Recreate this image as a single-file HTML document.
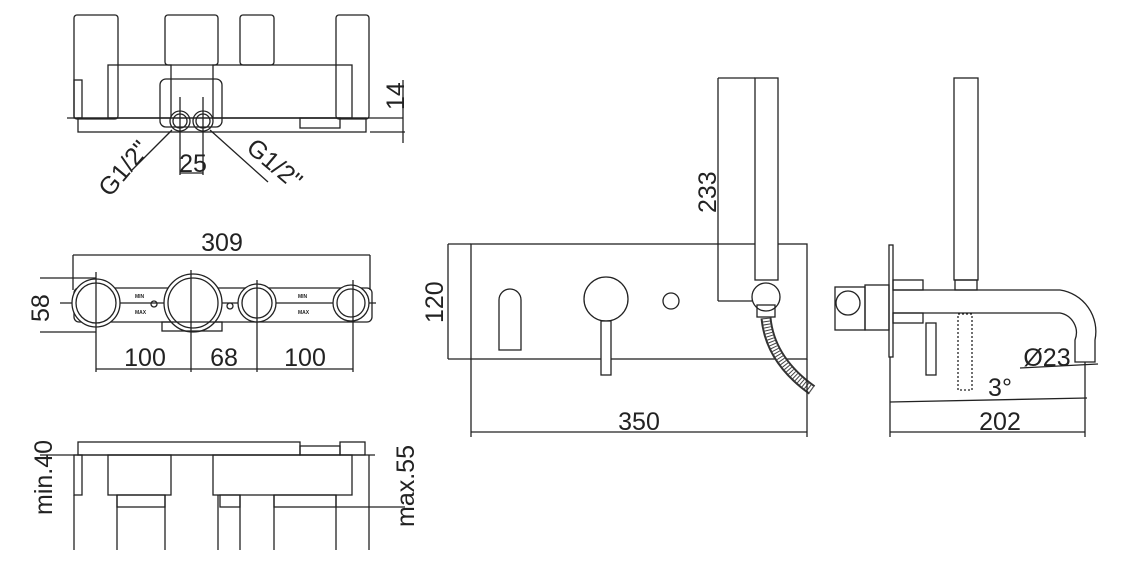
<!DOCTYPE html>
<html><head><meta charset="utf-8"><style>
html,body{margin:0;padding:0;background:#fff;}
svg{display:block;}
text{font-family:"Liberation Sans",sans-serif;fill:#222;}
</style></head><body>
<svg width="1122" height="577" viewBox="0 0 1122 577" xmlns="http://www.w3.org/2000/svg">
<g fill="none" stroke="#222" stroke-width="1.3">
<!-- TOP VIEW -->
<rect x="74" y="15" width="44" height="104" rx="3"/>
<rect x="165" y="15" width="53" height="50" rx="3"/>
<rect x="240" y="15" width="34" height="50" rx="3"/>
<rect x="336" y="15" width="33" height="104" rx="3"/>
<line x1="67" y1="118" x2="403" y2="118"/>
<rect x="78" y="118" width="288" height="14"/>
<rect x="300" y="118" width="40" height="10"/>
<rect x="108" y="65" width="63" height="53"/>
<rect x="213" y="65" width="139" height="53"/>
<rect x="160" y="79" width="62" height="48" rx="6"/>
<rect x="74" y="80" width="8" height="38"/>
<circle cx="180" cy="121" r="10"/><circle cx="180" cy="121" r="7"/>
<circle cx="203" cy="121" r="10"/><circle cx="203" cy="121" r="7"/>
<line x1="180" y1="97" x2="180" y2="175"/><line x1="203" y1="97" x2="203" y2="175"/>
<line x1="180" y1="173" x2="203" y2="173"/>
<line x1="172" y1="130" x2="132" y2="170"/><line x1="210" y1="130" x2="268" y2="182"/>
<line x1="370" y1="132" x2="405" y2="132"/>
<line x1="403" y1="80" x2="403" y2="143"/>
<!-- MIDDLE VIEW -->
<line x1="73" y1="255" x2="370" y2="255"/>
<line x1="73" y1="255" x2="73" y2="290"/><line x1="370" y1="255" x2="370" y2="290"/>
<rect x="74" y="288" width="298" height="34" rx="5"/>
<line x1="60" y1="303" x2="376" y2="303"/>
<line x1="40" y1="278" x2="96" y2="278"/><line x1="40" y1="332" x2="96" y2="332"/>
<circle cx="96" cy="303" r="24" fill="#fff"/><circle cx="96" cy="303" r="20"/>
<circle cx="193" cy="303" r="29" fill="#fff"/><circle cx="193" cy="303" r="25"/>
<circle cx="257" cy="303" r="19" fill="#fff"/><circle cx="257" cy="303" r="15"/>
<circle cx="351" cy="303" r="18" fill="#fff"/><circle cx="351" cy="303" r="14"/>
<circle cx="154" cy="304" r="3"/><circle cx="230" cy="306" r="3"/>
<rect x="162" y="322" width="60" height="9"/>
<line x1="96" y1="272" x2="96" y2="372"/><line x1="191" y1="270" x2="191" y2="372"/>
<line x1="257" y1="280" x2="257" y2="372"/><line x1="353" y1="280" x2="353" y2="372"/>
<line x1="96" y1="369" x2="353" y2="369"/>
<!-- BOTTOM VIEW -->
<rect x="78" y="442" width="222" height="13"/>
<rect x="300" y="446" width="40" height="9"/><rect x="340" y="442" width="25" height="13"/>
<line x1="40" y1="455" x2="375" y2="455"/>
<rect x="74" y="455" width="8" height="40"/>
<rect x="108" y="455" width="63" height="40"/>
<rect x="213" y="455" width="139" height="40"/>
<rect x="117" y="495" width="48" height="12"/><rect x="274" y="495" width="62" height="12"/>
<rect x="220" y="495" width="20" height="12"/>
<line x1="336" y1="507" x2="405" y2="507"/>
<line x1="74" y1="495" x2="74" y2="550"/><line x1="117" y1="495" x2="117" y2="550"/>
<line x1="165" y1="495" x2="165" y2="550"/><line x1="218" y1="495" x2="218" y2="550"/>
<line x1="240" y1="495" x2="240" y2="550"/><line x1="274" y1="495" x2="274" y2="550"/>
<line x1="336" y1="495" x2="336" y2="550"/><line x1="369" y1="455" x2="369" y2="550"/>
<!-- FRONT VIEW -->
<rect x="471" y="244" width="336" height="115"/>
<line x1="448" y1="244" x2="471" y2="244"/><line x1="448" y1="359" x2="471" y2="359"/>
<line x1="448" y1="244" x2="448" y2="359"/>
<path d="M499 350 V300 A11 11 0 0 1 521 300 V350 Z"/>
<circle cx="606" cy="299" r="22"/>
<rect x="601" y="321" width="10" height="54" fill="#fff"/>
<circle cx="671" cy="301" r="8"/>
<rect x="755" y="78" width="23" height="202" fill="#fff"/>
<circle cx="766" cy="297" r="14" fill="#fff"/>
<rect x="757" y="305" width="18" height="12"/>
<path d="M766 318 Q770 360 812 390" stroke-width="11" stroke="#333"/>
<path d="M766 318 Q770 360 812 390" stroke-width="7" stroke="#fff"/>
<path d="M766 318 Q770 360 812 390" stroke-width="7" stroke="#444" stroke-dasharray="1 2"/>
<line x1="718" y1="78" x2="755" y2="78"/><line x1="718" y1="78" x2="718" y2="301"/>
<line x1="718" y1="301" x2="752" y2="301"/>
<line x1="471" y1="359" x2="471" y2="437"/><line x1="807" y1="359" x2="807" y2="437"/>
<line x1="471" y1="432" x2="807" y2="432"/>
<!-- SIDE VIEW -->
<rect x="954" y="78" width="24" height="202"/>
<rect x="955" y="280" width="22" height="10"/>
<rect x="889" y="245" width="4" height="112"/>
<path d="M893 290 H1060 A42 42 0 0 1 1095 340 V362 H1075 V340 A20 20 0 0 0 1060 313 H893"/>
<rect x="835" y="287" width="30" height="43"/>
<circle cx="848" cy="303" r="12"/>
<rect x="865" y="285" width="24" height="45"/>
<rect x="893" y="280" width="30" height="10"/><rect x="893" y="313" width="30" height="10"/>
<rect x="926" y="323" width="10" height="52"/>
<rect x="958" y="314" width="14" height="76" stroke-dasharray="2 2"/>
<line x1="890" y1="357" x2="890" y2="437"/><line x1="1085" y1="362" x2="1085" y2="437"/>
<line x1="890" y1="432" x2="1085" y2="432"/>
<line x1="890" y1="402" x2="1087" y2="398"/>
<line x1="1020" y1="368" x2="1098" y2="364"/>
</g>
<g font-size="25">
<text x="0" y="0" transform="translate(404 110) rotate(-90)">14</text>
<text x="193" y="172" text-anchor="middle">25</text>
<text x="0" y="0" transform="translate(110 198) rotate(-50)">G1/2"</text>
<text x="0" y="0" transform="translate(245 150) rotate(40)">G1/2"</text>
<text x="222" y="251" text-anchor="middle">309</text>
<text x="0" y="0" transform="translate(49 322) rotate(-90)">58</text>
<text x="145" y="366" text-anchor="middle">100</text>
<text x="224" y="366" text-anchor="middle">68</text>
<text x="305" y="366" text-anchor="middle">100</text>
<text x="0" y="0" transform="translate(52 515) rotate(-90)">min.40</text>
<text x="0" y="0" transform="translate(414 527) rotate(-90)">max.55</text>
<text x="0" y="0" transform="translate(443 323) rotate(-90)">120</text>
<text x="0" y="0" transform="translate(716 213) rotate(-90)">233</text>
<text x="639" y="430" text-anchor="middle">350</text>
<text x="1047" y="366" text-anchor="middle">Ø23</text>
<text x="1000" y="396" text-anchor="middle">3°</text>
<text x="1000" y="430" text-anchor="middle">202</text>
</g>
<g font-size="5" font-weight="bold"><text x="135" y="298">MIN</text><text x="135" y="314">MAX</text><text x="298" y="298">MIN</text><text x="298" y="314">MAX</text></g>
</svg>
</body></html>
